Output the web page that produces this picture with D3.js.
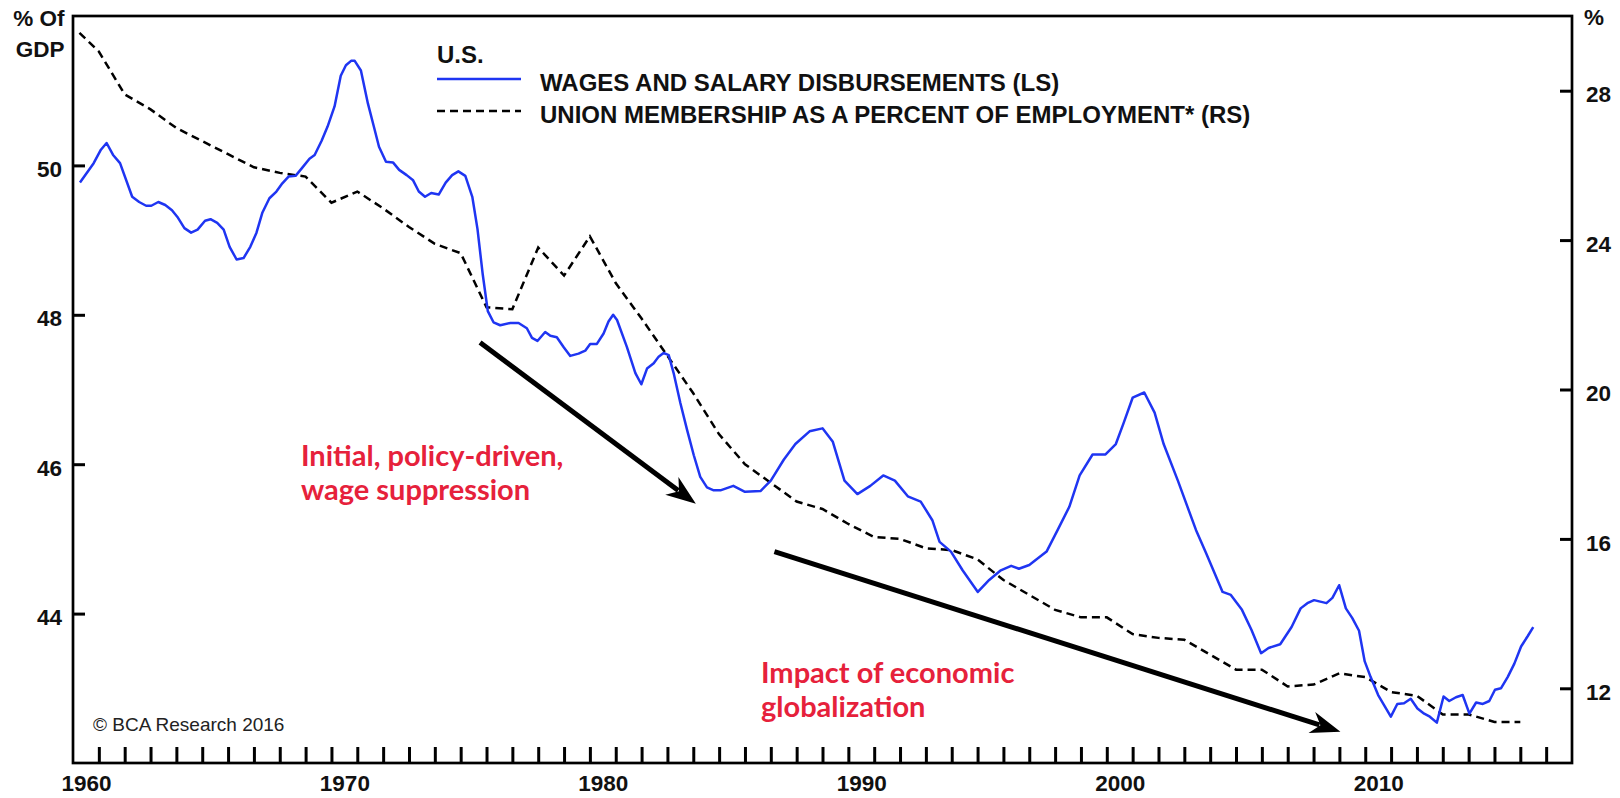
<!DOCTYPE html>
<html>
<head>
<meta charset="utf-8">
<script src="https://cdn.jsdelivr.net/npm/d3@7"></script>
<style>
  html, body { margin: 0; padding: 0; background: #fff; }
  svg { display: block; }
  .axis text { font-family: 'Liberation Sans', Arial, sans-serif; font-weight: bold; font-size: 22.5px; fill: #111; }
  .axis path.domain { display: none; }
  .axis line { stroke: #000; stroke-width: 3; }
  .unit-label { font-family: 'Liberation Sans', Arial, sans-serif; font-weight: bold; font-size: 22.5px; fill: #111; }
  .legend-text { font-family: 'Liberation Sans', Arial, sans-serif; font-weight: bold; font-size: 24px; fill: #111; }
  .note { font-family: Lato, 'Open Sans', sans-serif; font-weight: bold; font-size: 29px; fill: #e6213b; }
  .copyright { font-family: 'Liberation Sans', Arial, sans-serif; font-size: 19px; fill: #222; }
</style>
</head>
<body>
<div id="chart"></div>
<script>
// wages and salary disbursements, % of GDP (left scale)
var wageDates = [
  1960.27, 1960.8, 1961.08, 1961.3, 1961.55, 1961.82, 1962.29, 1962.56, 1962.83, 1963.03,
  1963.3, 1963.57, 1963.83, 1964.04, 1964.31, 1964.57, 1964.82, 1965.11, 1965.32, 1965.58,
  1965.83, 1966.06, 1966.33, 1966.6, 1966.86, 1967.1, 1967.33, 1967.6, 1967.87, 1968.1,
  1968.34, 1968.61, 1968.85, 1969.15, 1969.35, 1969.62, 1969.85, 1970.12, 1970.36, 1970.56,
  1970.76, 1970.9, 1971.14, 1971.41, 1971.64, 1971.84, 1972.11, 1972.38, 1972.62, 1972.91,
  1973.16, 1973.38, 1973.62, 1973.86, 1974.15, 1974.42, 1974.67, 1974.91, 1975.18, 1975.45,
  1975.65, 1975.85, 1976.05, 1976.27, 1976.53, 1976.92, 1977.24, 1977.56, 1977.76, 1977.97,
  1978.27, 1978.47, 1978.72, 1978.98, 1979.24, 1979.56, 1979.82, 1980.01, 1980.27, 1980.53,
  1980.72, 1980.9, 1981.05, 1981.43, 1981.76, 1981.99, 1982.21, 1982.47, 1982.66, 1982.85,
  1983.05, 1983.24, 1983.5, 1983.76, 1984.02, 1984.27, 1984.53, 1984.79, 1985.05, 1985.3,
  1985.55, 1986.0, 1986.6, 1987.0, 1987.5, 1987.95, 1988.5, 1989.0, 1989.4, 1989.85,
  1990.35, 1990.85, 1991.35, 1991.8, 1992.3, 1992.8, 1993.25, 1993.53, 1993.97, 1994.42,
  1995.01, 1995.45, 1995.9, 1996.3, 1996.6, 1997.0, 1997.67, 1998.1, 1998.55, 1998.95,
  1999.45, 1999.95, 2000.35, 2000.65, 2001.0, 2001.45, 2001.85, 2002.2, 2002.75, 2003.45,
  2003.84, 2004.48, 2004.8, 2005.23, 2005.6, 2005.97, 2006.26, 2006.71, 2007.15, 2007.5,
  2007.76, 2008.02, 2008.5, 2008.73, 2008.99, 2009.25, 2009.5, 2009.76, 2009.98, 2010.21,
  2010.5, 2010.99, 2011.24, 2011.5, 2011.76, 2012.02, 2012.28, 2012.5, 2012.77, 2013.03,
  2013.25, 2013.51, 2013.77, 2014.03, 2014.29, 2014.55, 2014.8, 2015.02, 2015.25, 2015.51,
  2015.77, 2016.03, 2016.29, 2016.5
];
var wageShare = [
  49.77, 50.03, 50.21, 50.30, 50.14, 50.03, 49.58, 49.51, 49.46, 49.46,
  49.51, 49.47, 49.40, 49.31, 49.16, 49.10, 49.14, 49.26, 49.28, 49.23,
  49.14, 48.91, 48.74, 48.76, 48.91, 49.10, 49.37, 49.56, 49.65, 49.76,
  49.85, 49.86, 49.96, 50.09, 50.14, 50.33, 50.52, 50.79, 51.20, 51.34,
  51.40, 51.40, 51.27, 50.83, 50.52, 50.25, 50.05, 50.04, 49.94, 49.87,
  49.80, 49.65, 49.58, 49.63, 49.61, 49.77, 49.87, 49.92, 49.86, 49.58,
  49.15, 48.55, 48.05, 47.90, 47.86, 47.89, 47.89, 47.82, 47.69, 47.65,
  47.77, 47.72, 47.70, 47.57, 47.45, 47.48, 47.52, 47.61, 47.61, 47.75,
  47.91, 48.00, 47.93, 47.57, 47.22, 47.07, 47.28, 47.35, 47.44, 47.49,
  47.46, 47.22, 46.82, 46.46, 46.12, 45.83, 45.69, 45.65, 45.65, 45.68,
  45.71, 45.63, 45.64, 45.78, 46.06, 46.27, 46.44, 46.48, 46.30, 45.78,
  45.60, 45.71, 45.85, 45.78, 45.57, 45.50, 45.25, 44.96, 44.83, 44.58,
  44.29, 44.45, 44.58, 44.64, 44.60, 44.65, 44.83, 45.12, 45.43, 45.85,
  46.13, 46.13, 46.27, 46.55, 46.89, 46.96, 46.69, 46.27, 45.78, 45.12,
  44.81, 44.29, 44.25, 44.05, 43.78, 43.47, 43.54, 43.59, 43.82, 44.07,
  44.14, 44.18, 44.14, 44.21, 44.38, 44.07, 43.94, 43.77, 43.36, 43.15,
  42.91, 42.62, 42.79, 42.80, 42.86, 42.73, 42.66, 42.62, 42.54, 42.89,
  42.83, 42.88, 42.91, 42.66, 42.81, 42.79, 42.83, 42.98, 43.00, 43.15,
  43.33, 43.56, 43.70, 43.82
];

// union membership as % of employment, annual, plotted at year end (right scale)
var unionDates = [
  1960.25, 1961, 1962, 1963, 1964, 1965, 1966, 1967, 1968, 1969, 1970, 1971, 1972, 1973,
  1974, 1975, 1976, 1977, 1978, 1979, 1980, 1981, 1982, 1983, 1984, 1985, 1986, 1987,
  1988, 1989, 1990, 1991, 1992, 1993, 1994, 1995, 1996, 1997, 1998, 1999, 2000, 2001,
  2002, 2003, 2004, 2005, 2006, 2007, 2008, 2009, 2010, 2011, 2012, 2013, 2014, 2015, 2016
];
var unionRate = [
  29.55, 29.05, 27.9, 27.5, 27.0, 26.65, 26.3, 25.95, 25.8, 25.7, 25.0, 25.3, 24.85, 24.35,
  23.9, 23.65, 22.2, 22.15, 23.8, 23.05, 24.1, 22.85, 21.9, 20.9, 19.9, 18.8, 18.0, 17.5,
  17.0, 16.8, 16.4, 16.05, 16.0, 15.75, 15.7, 15.45, 14.9, 14.5, 14.1, 13.9, 13.9, 13.45,
  13.35, 13.3, 12.9, 12.5, 12.5, 12.05, 12.1, 12.4, 12.3, 11.9, 11.8, 11.3, 11.3, 11.1, 11.1
];

var yearLabels = [1960, 1970, 1980, 1990, 2000, 2010];
var leftTicks = [44, 46, 48, 50];
var rightTicks = [12, 16, 20, 24, 28];
var legendLabels = ['WAGES AND SALARY DISBURSEMENTS (LS)', 'UNION MEMBERSHIP AS A PERCENT OF EMPLOYMENT* (RS)'];

// annotation arrows, in [year, left-scale value]
var arrows = [
  [[1975.75, 47.63], [1984.1, 45.47]],
  [[1987.14, 44.83], [2009.04, 42.42]]
];
var notes = [
  {at: [1968.82, 45.97], lines: ['Initial, policy-driven,', 'wage suppression']},
  {at: [1986.62, 43.07], lines: ['Impact of economic', 'globalization']}
];

var width = 1620, height = 798;
var frame = {left: 73, right: 1572, top: 16, bottom: 763};

var svg = d3.select('#chart').append('svg')
  .attr('width', width)
  .attr('height', height);

var x = d3.scaleLinear().domain([1960, 2018]).range([frame.left, frame.right]);
var yLeft = d3.scaleLinear().domain([42, 52]).range([frame.bottom, frame.top]);
var yRight = d3.scaleLinear().domain([10, 30]).range([frame.bottom, frame.top]);

// Axes
var leftAxis = svg.append('g')
  .attr('class', 'axis')
  .attr('transform', 'translate(' + frame.left + ',0)')
  .call(d3.axisLeft(yLeft).tickValues(leftTicks).tickSize(-12).tickPadding(11));
leftAxis.selectAll('text').attr('dy', '0.48em');

var rightAxis = svg.append('g')
  .attr('class', 'axis')
  .attr('transform', 'translate(' + frame.right + ',0)')
  .call(d3.axisRight(yRight).tickValues(rightTicks).tickSize(-12).tickPadding(14));
rightAxis.selectAll('text').attr('dy', '0.5em');

svg.append('g')
  .attr('class', 'axis')
  .attr('transform', 'translate(0,' + frame.bottom + ')')
  .call(d3.axisBottom(x).tickValues(d3.range(1961, 2018)).tickSize(-16).tickFormat(''));

var bottomLabels = svg.append('g')
  .attr('class', 'axis')
  .attr('transform', 'translate(0,' + frame.bottom + ')')
  .call(d3.axisBottom(x).tickValues(yearLabels.map(function(d){ return d + 0.5; }))
    .tickSize(0).tickFormat(function(d){ return Math.floor(d); }));
bottomLabels.selectAll('text').attr('y', 28).attr('dy', 0);

// Frame
svg.append('rect')
  .attr('x', frame.left)
  .attr('y', frame.top)
  .attr('width', frame.right - frame.left)
  .attr('height', frame.bottom - frame.top)
  .attr('fill', 'none')
  .attr('stroke', '#000')
  .attr('stroke-width', 2.7);

// Unit labels
svg.append('text').attr('class', 'unit-label').attr('x', 64.5).attr('y', 26).attr('text-anchor', 'end').text('% Of');
svg.append('text').attr('class', 'unit-label').attr('x', 64.5).attr('y', 56.5).attr('text-anchor', 'end').text('GDP');
svg.append('text').attr('class', 'unit-label').attr('x', 1584).attr('y', 25).text('%');

// Lines
var unionLine = d3.line()
  .x(function(d, i){ return x(unionDates[i]); })
  .y(function(d){ return yRight(d); });
var wageLine = d3.line()
  .x(function(d, i){ return x(wageDates[i]); })
  .y(function(d){ return yLeft(d); });

svg.append('path')
  .datum(unionRate)
  .attr('d', unionLine)
  .attr('fill', 'none')
  .attr('stroke', '#000')
  .attr('stroke-width', 2.5)
  .attr('stroke-dasharray', '8,5');

svg.append('path')
  .datum(wageShare)
  .attr('d', wageLine)
  .attr('fill', 'none')
  .attr('stroke', '#1f35f2')
  .attr('stroke-width', 2.5)
  .attr('stroke-linejoin', 'round');

// Legend
var legend = svg.append('g');
legend.append('text').attr('class', 'legend-text').attr('x', 437).attr('y', 63).text('U.S.');
legend.append('line')
  .attr('x1', 437).attr('x2', 521).attr('y1', 79).attr('y2', 79)
  .attr('stroke', '#1f35f2').attr('stroke-width', 2.5);
legend.append('line')
  .attr('x1', 437).attr('x2', 521).attr('y1', 111).attr('y2', 111)
  .attr('stroke', '#000').attr('stroke-width', 2.5).attr('stroke-dasharray', '8,5');
legend.selectAll('.legend-label')
  .data(legendLabels)
  .enter()
  .append('text')
  .attr('class', 'legend-text legend-label')
  .attr('x', 540)
  .attr('y', function(d, i){ return i === 0 ? 91 : 123; })
  .text(function(d){ return d; });

// Arrows
function drawArrow(a){
  var x0 = x(a[0][0]), y0 = yLeft(a[0][1]);
  var x1 = x(a[1][0]), y1 = yLeft(a[1][1]);
  var len = Math.sqrt((x1 - x0) * (x1 - x0) + (y1 - y0) * (y1 - y0));
  var ux = (x1 - x0) / len, uy = (y1 - y0) / len;
  var px = -uy, py = ux;
  var headLen = 30, headHalf = 11, notch = 21;
  svg.append('line')
    .attr('x1', x0).attr('y1', y0)
    .attr('x2', x1 - ux * (notch + 1)).attr('y2', y1 - uy * (notch + 1))
    .attr('stroke', '#000').attr('stroke-width', 5);
  var pts = [
    [x1, y1],
    [x1 - ux * headLen + px * headHalf, y1 - uy * headLen + py * headHalf],
    [x1 - ux * notch, y1 - uy * notch],
    [x1 - ux * headLen - px * headHalf, y1 - uy * headLen - py * headHalf]
  ];
  svg.append('path')
    .attr('d', 'M' + pts.map(function(p){ return p[0] + ',' + p[1]; }).join('L') + 'Z')
    .attr('fill', '#000');
}
arrows.forEach(drawArrow);

// Notes
notes.forEach(function(n){
  var t = svg.append('text')
    .attr('class', 'note')
    .attr('x', x(n.at[0]))
    .attr('y', yLeft(n.at[1]));
  n.lines.forEach(function(line, i){
    t.append('tspan')
      .attr('x', x(n.at[0]))
      .attr('dy', i === 0 ? 0 : 33.5)
      .text(line);
  });
});

// Copyright
svg.append('text')
  .attr('class', 'copyright')
  .attr('x', 93)
  .attr('y', 730.5)
  .text('\u00A9 BCA Research 2016');
</script>
</body>
</html>
